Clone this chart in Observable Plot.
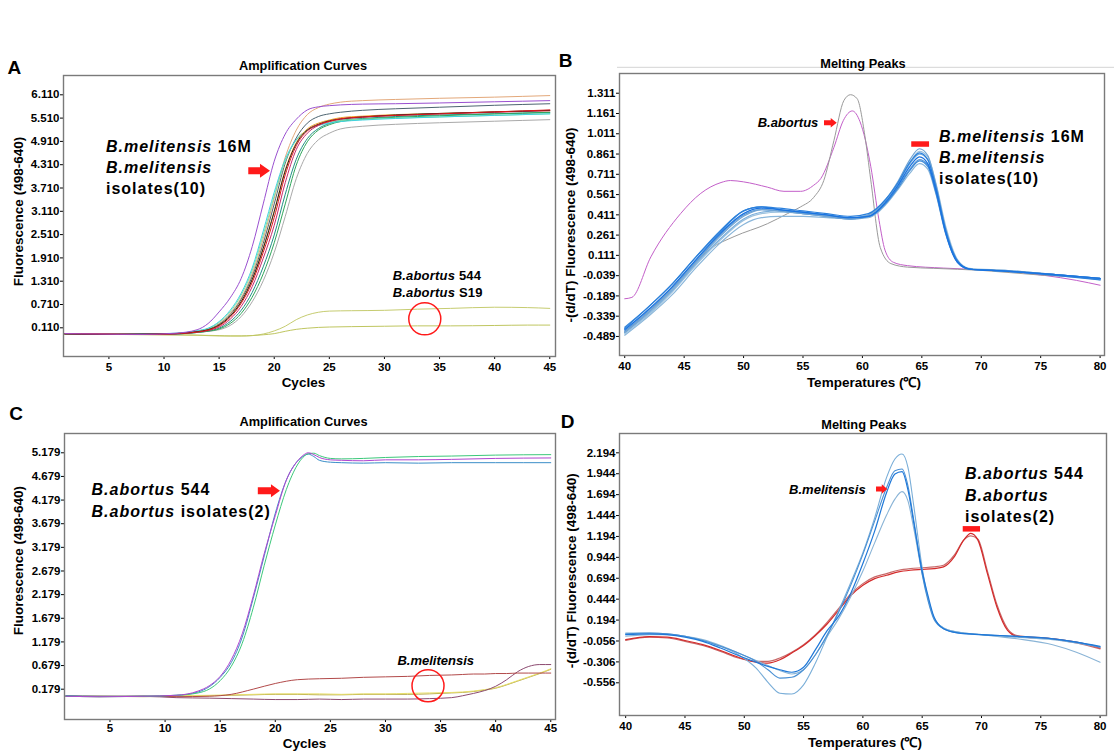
<!DOCTYPE html>
<html><head><meta charset="utf-8">
<script src="https://cdn.jsdelivr.net/npm/d3@7"></script>
<script src="https://cdn.jsdelivr.net/npm/@observablehq/plot@0.6"></script>
<style>
body{margin:0;background:#fff;}
#root{position:relative;width:1114px;height:754px;background:#fff;overflow:hidden;}
</style></head><body><div id="root"></div>
<script>
// ---------- Tick labels ----------
const ticksCycles = [5,10,15,20,25,30,35,40,45];
const ticksTemp = [40,45,50,55,60,65,70,75,80];
const ticksA_y = [0.110,0.710,1.310,1.910,2.510,3.110,3.710,4.310,4.910,5.510,6.110];
const ticksB_y = [-0.489,-0.339,-0.189,-0.039,0.111,0.261,0.411,0.561,0.711,0.861,1.011,1.161,1.311];
const ticksC_y = [0.179,0.679,1.179,1.679,2.179,2.679,3.179,3.679,4.179,4.679,5.179];
const ticksD_y = [-0.556,-0.306,-0.056,0.194,0.444,0.694,0.944,1.194,1.444,1.694,1.944,2.194];

// ---------- Panel A: amplification curves ----------
const cyclesA = [1,4,8,11,13,14,15,16,17,18,19,20,21,22,23,24,25,26,28,31,35,40,45];
const A_purple = [-0.04,-0.05,-0.06,-0.03,0.06,0.22,0.52,0.88,1.38,2.2,3.3,4.4,5.1,5.48,5.72,5.80,5.83,5.85,5.87,5.88,5.90,5.93,5.96];
const A_tan = [-0.05,-0.05,-0.06,-0.04,0.02,0.08,0.22,0.48,0.88,1.5,2.4,3.45,4.5,5.2,5.6,5.78,5.87,5.92,5.96,5.99,6.02,6.05,6.09];
const A_slate = [-0.04,-0.05,-0.05,-0.04,0.02,0.07,0.2,0.45,0.84,1.43,2.28,3.3,4.35,5.0,5.38,5.55,5.62,5.66,5.71,5.75,5.79,5.84,5.88];
const A_black = [-0.05,-0.06,-0.05,-0.04,0.01,0.06,0.18,0.41,0.78,1.35,2.15,3.1,4.15,4.85,5.2,5.35,5.44,5.49,5.54,5.59,5.63,5.67,5.71];
const A_red = [-0.04,-0.05,-0.06,-0.04,0.0,0.05,0.16,0.38,0.74,1.28,2.05,2.95,4.05,4.80,5.18,5.34,5.43,5.49,5.54,5.58,5.62,5.67,5.72];
const A_crimson = [-0.04,-0.05,-0.06,-0.05,0.0,0.04,0.13,0.33,0.66,1.17,1.9,2.75,3.85,4.7,5.12,5.32,5.42,5.48,5.53,5.58,5.62,5.66,5.70];
const A_orange = [-0.05,-0.05,-0.06,-0.04,0.01,0.06,0.18,0.42,0.79,1.36,2.17,3.12,4.18,4.88,5.23,5.38,5.46,5.52,5.56,5.60,5.63,5.67,5.70];
const A_cyan = [-0.05,-0.06,-0.05,-0.03,0.03,0.1,0.27,0.56,1.0,1.65,2.6,3.6,4.45,4.95,5.2,5.32,5.38,5.42,5.46,5.50,5.54,5.58,5.62];
const A_lightgreen = [-0.05,-0.05,-0.06,-0.04,0.03,0.09,0.25,0.52,0.95,1.58,2.5,3.5,4.4,4.95,5.2,5.33,5.4,5.45,5.48,5.51,5.54,5.58,5.62];
const A_green = [-0.05,-0.05,-0.06,-0.05,-0.01,0.02,0.08,0.22,0.48,0.9,1.5,2.3,3.3,4.3,4.9,5.2,5.34,5.42,5.48,5.53,5.57,5.62,5.66];
const A_teal = [-0.04,-0.05,-0.06,-0.05,-0.01,0.03,0.1,0.27,0.56,1.02,1.68,2.5,3.55,4.45,4.98,5.24,5.37,5.45,5.50,5.55,5.59,5.62,5.65];
const A_gray = [-0.04,-0.05,-0.06,-0.05,-0.01,0.02,0.06,0.17,0.4,0.78,1.32,2.05,2.98,3.95,4.6,4.95,5.12,5.23,5.30,5.35,5.39,5.43,5.47];
const cyclesAlow = [1,5,10,13,15,16,17,18,19,20,21,22,23,24,25,27,30,33,36,40,43,45];
const A_ab544 = [-0.05,-0.06,-0.07,-0.08,-0.09,-0.1,-0.1,-0.09,-0.05,0.03,0.15,0.32,0.44,0.51,0.54,0.55,0.56,0.59,0.61,0.64,0.63,0.61];
const A_abS19 = [-0.05,-0.06,-0.07,-0.08,-0.1,-0.1,-0.1,-0.09,-0.07,-0.04,0.02,0.07,0.1,0.12,0.13,0.14,0.15,0.16,0.16,0.17,0.18,0.18];

// ---------- Panel B: melting peaks ----------
const tempB = [40,42,44,46,48,50,51.5,53,55,57,59,60.5,62,63,64,64.8,65.5,66.2,67,68,69,72,76,80];
const B_m1 = [-0.44,-0.29,-0.12,0.08,0.27,0.42,0.46,0.45,0.43,0.41,0.39,0.40,0.51,0.63,0.77,0.84,0.79,0.59,0.28,0.06,0.01,-0.005,-0.03,-0.06];
const B_m2 = [-0.46,-0.31,-0.14,0.06,0.25,0.40,0.45,0.44,0.42,0.40,0.38,0.41,0.53,0.66,0.82,0.90,0.85,0.63,0.31,0.07,0.01,-0.005,-0.03,-0.06];
const B_m3 = [-0.48,-0.34,-0.18,0.02,0.20,0.34,0.39,0.40,0.40,0.39,0.38,0.39,0.49,0.60,0.72,0.79,0.75,0.56,0.27,0.06,0.01,-0.005,-0.03,-0.06];
const B_m4 = [-0.43,-0.27,-0.10,0.10,0.29,0.44,0.47,0.46,0.44,0.42,0.40,0.42,0.53,0.65,0.80,0.87,0.82,0.61,0.30,0.07,0.01,-0.005,-0.035,-0.07];
const B_m5 = [-0.45,-0.30,-0.13,0.07,0.26,0.41,0.45,0.44,0.42,0.40,0.38,0.40,0.50,0.62,0.75,0.82,0.78,0.58,0.29,0.07,0.01,0.0,-0.03,-0.065];
const B_m6 = [-0.47,-0.33,-0.16,0.04,0.22,0.37,0.42,0.43,0.42,0.40,0.39,0.41,0.52,0.65,0.80,0.88,0.84,0.64,0.33,0.08,0.015,0.0,-0.03,-0.065];
const B_m7 = [-0.42,-0.27,-0.10,0.10,0.28,0.44,0.47,0.45,0.43,0.41,0.39,0.40,0.50,0.61,0.74,0.81,0.77,0.57,0.28,0.06,0.01,-0.005,-0.03,-0.06];
const B_m8 = [-0.46,-0.32,-0.15,0.05,0.23,0.38,0.43,0.44,0.43,0.41,0.39,0.41,0.52,0.64,0.79,0.86,0.82,0.61,0.30,0.07,0.01,-0.005,-0.03,-0.06];
const tempBgray = [40,42,44,45.5,47.2,49.2,52,53.7,54.8,55.9,56.75,57.6,58.44,59,59.56,60.2,60.7,61.5,62.4,63.8,66,70,75,78,80];
const B_gray = [-0.45,-0.31,-0.13,0.02,0.16,0.25,0.345,0.42,0.47,0.54,0.665,0.96,1.257,1.30,1.27,1.0,0.67,0.17,0.05,0.024,0.015,0.0,-0.035,-0.05,-0.07];
const tempBmag = [40,40.6,42.2,44.7,46.4,48.1,48.9,50,52,53.4,54.8,55.9,56.5,57.6,58.4,59.15,59.8,60.7,61.4,61.9,62.6,63.8,66.8,71,75.3,78,80];
const B_magenta = [-0.21,-0.20,0.10,0.42,0.57,0.65,0.665,0.655,0.616,0.585,0.585,0.63,0.68,0.91,1.11,1.18,1.10,0.77,0.37,0.15,0.06,0.035,0.017,0.0,-0.037,-0.074,-0.11];

// ---------- Panel C: amplification curves ----------
const cyclesC = [1,4,8,11,13,14,15,16,17,18,19,20,21,22,22.5,23,23.5,24,25,26,28,30,33,36,40,45];
const C_magenta = [0.03,0.02,0.03,0.05,0.14,0.25,0.45,0.8,1.35,2.15,3.05,3.85,4.6,5.0,5.12,5.18,5.14,5.08,5.03,5.02,5.01,5.03,5.03,5.04,5.06,5.07];
const C_green = [0.03,0.02,0.03,0.05,0.1,0.18,0.36,0.66,1.15,1.9,2.8,3.65,4.4,4.92,5.08,5.16,5.17,5.12,5.06,5.05,5.06,5.08,5.1,5.11,5.13,5.14];
const C_blue = [0.04,0.03,0.03,0.05,0.12,0.23,0.43,0.74,1.28,2.1,3.0,3.9,4.6,5.0,5.1,5.15,5.1,5.02,4.98,4.97,4.96,4.97,4.96,4.97,4.97,4.97];
const cyclesClow = [1,4,8,11,14,16,18,20,22,24,26,28,30,32,34,36,37,38,39,40,41,42,43,44,45];
const C_darkred = [0.04,0.03,0.03,0.02,0.03,0.07,0.18,0.3,0.38,0.4,0.41,0.43,0.44,0.45,0.47,0.48,0.49,0.5,0.5,0.51,0.51,0.52,0.52,0.52,0.52];
const C_plum = [0.03,0.02,0.03,0.0,-0.01,-0.02,-0.03,-0.04,-0.04,-0.03,-0.04,-0.03,-0.03,-0.03,-0.02,0.0,0.04,0.09,0.15,0.24,0.38,0.55,0.66,0.70,0.70];
const C_yellow = [0.03,0.03,0.03,0.04,0.05,0.06,0.07,0.08,0.08,0.08,0.07,0.08,0.08,0.09,0.1,0.11,0.12,0.14,0.17,0.21,0.28,0.36,0.44,0.52,0.61];
const C_olive = [0.03,0.03,0.02,0.03,0.04,0.05,0.06,0.07,0.07,0.06,0.06,0.07,0.07,0.07,0.08,0.1,0.11,0.13,0.16,0.2,0.27,0.35,0.43,0.51,0.6];

// ---------- Panel D: melting peaks ----------
const tempD = [40,42,43.5,45,46.5,48,49.5,51,52,53,54,55,56,57,58,59,60,61,62,62.7,63.3,63.8,64.3,65,65.5,66,66.8,68,70,73,76,78,80];
const D_m1 = [0.02,0.03,0.02,-0.01,-0.06,-0.14,-0.23,-0.31,-0.36,-0.40,-0.43,-0.37,-0.16,0.07,0.25,0.52,0.87,1.26,1.72,1.94,1.97,1.75,1.35,0.78,0.48,0.23,0.09,0.04,0.02,0.0,-0.03,-0.07,-0.12];
const D_m2 = [0.03,0.04,0.03,0.0,-0.05,-0.12,-0.2,-0.3,-0.4,-0.5,-0.49,-0.4,-0.22,0.02,0.3,0.62,0.98,1.38,1.78,1.98,2.0,1.8,1.38,0.74,0.42,0.2,0.09,0.04,0.02,0.0,-0.03,-0.07,-0.13];
const D_m3 = [0.04,0.04,0.03,0.0,-0.05,-0.12,-0.22,-0.38,-0.55,-0.68,-0.69,-0.58,-0.32,0.0,0.32,0.65,1.0,1.42,1.9,2.12,2.18,2.02,1.55,0.82,0.45,0.22,0.1,0.05,0.02,-0.01,-0.04,-0.08,-0.13];
const D_m4 = [0.0,0.02,0.02,0.0,-0.04,-0.11,-0.2,-0.29,-0.35,-0.41,-0.45,-0.40,-0.22,0.0,0.22,0.48,0.78,1.12,1.45,1.64,1.73,1.62,1.28,0.75,0.45,0.22,0.1,0.05,0.02,-0.03,-0.1,-0.19,-0.31];
const tempDred = [40,42,43.5,45,46.5,48,49.5,51,52,53,54,55,56,57,58,59,60,61,62,63,64,65,66,66.8,67.7,68.5,69.1,69.7,70.5,71.3,72.2,73,76,78,80];
const D_a1 = [-0.04,-0.005,-0.01,-0.05,-0.1,-0.17,-0.25,-0.31,-0.32,-0.28,-0.2,-0.11,0.01,0.15,0.32,0.49,0.61,0.69,0.73,0.77,0.79,0.80,0.81,0.83,0.95,1.15,1.23,1.15,0.75,0.35,0.07,0.0,-0.03,-0.07,-0.14];
const D_a2 = [-0.05,-0.01,-0.02,-0.06,-0.11,-0.18,-0.26,-0.3,-0.3,-0.26,-0.19,-0.1,0.02,0.17,0.34,0.51,0.63,0.71,0.75,0.79,0.81,0.82,0.83,0.85,0.97,1.15,1.2,1.16,0.78,0.38,0.09,0.01,-0.03,-0.08,-0.15];

// ---------- Annotation texts ----------
const txtMel16M = [[["B.melitensis",true],[" 16M",false]],[["B.melitensis",true]],[["isolates(10)",false]]];
const txtAb544S19 = [[["B.abortus",true],[" 544",false]],[["B.abortus",true],[" S19",false]]];
const txtAbC = [[["B.abortus",true],[" 544",false]],[["B.abortus",true],[" isolates(2)",false]]];
const txtAbD = [[["B.abortus",true],[" 544",false]],[["B.abortus",true]],[["isolates(2)",false]]];

// ---------- rendering helpers ----------
const FONT = "'Liberation Sans', Arial, Helvetica, sans-serif";
const CAP = 0.358;
const RED = "#ff1a1a";
const root = document.getElementById("root");

function lineMarks(xs, list) {
  return list.map(([vals, color, w]) =>
    Plot.line(xs.map((x, i) => ({x, y: vals[i]})), {x: "x", y: "y", stroke: color, strokeWidth: w || 1, curve: "monotone-x"}));
}

function textMark(items) {
  return (index, scales) => {
    const g = d3.create("svg:g").attr("font-family", FONT).attr("font-weight", "bold").attr("fill", "#000");
    for (const it of items) {
      it.lines.forEach((parts, k) => {
        const t = g.append("text")
          .attr("x", scales.x(it.x))
          .attr("y", scales.y(it.ys[k]) + CAP * it.size)
          .attr("font-size", it.size)
          .attr("letter-spacing", it.spacing || 0)
          .attr("text-anchor", it.anchor || "start")
          .style("white-space", "pre");
        for (const [s, ital] of parts) t.append("tspan").attr("font-style", ital ? "italic" : "normal").text(s);
      });
    }
    return g.node();
  };
}

function arrowMark(arrows) {
  return (index, scales) => {
    const g = d3.create("svg:g").attr("fill", RED);
    for (const a of arrows) {
      const x1 = scales.x(a.x1), x2 = scales.x(a.x2), y = scales.y(a.y);
      const b = a.body / 2, h = a.head / 2, hx = x2 - a.headLen;
      g.append("path").attr("d", `M${x1},${y-b}L${hx},${y-b}L${hx},${y-h}L${x2},${y}L${hx},${y+h}L${hx},${y+b}L${x1},${y+b}Z`);
    }
    return g.node();
  };
}

function decor(p) {
  return (index, scales, values, d) => {
    const g = d3.create("svg:g").attr("font-family", FONT).attr("font-weight", "bold").attr("fill", "#000");
    const L = d.marginLeft, R = d.width - d.marginRight, T = d.marginTop, B = d.height - d.marginBottom;
    const cx = (L + R) / 2, cy = (T + B) / 2;
    if (p.topLine) g.append("line").attr("x1", L - 2).attr("x2", d.width).attr("y1", T - p.topLine).attr("y2", T - p.topLine).attr("stroke", "#d4d4d4").attr("stroke-width", 1);
    g.append("text").attr("x", p.letterX).attr("y", p.letterBase).attr("font-size", 19).text(p.letter);
    g.append("text").attr("x", cx + p.titleDx).attr("y", T - p.titleUp + CAP * 12.8).attr("text-anchor", "middle").attr("font-size", 12.8).text(p.title);
    g.append("text").attr("x", cx + p.xlabDx).attr("y", B + p.xlabDown + CAP * 13.5).attr("text-anchor", "middle").attr("font-size", 13.5).text(p.xlab);
    g.append("text").attr("transform", `translate(${L + p.ylabDx + CAP * 13.5},${cy + p.ylabDy}) rotate(-90)`).attr("text-anchor", "middle").attr("font-size", 13.5).text(p.ylab);
    return g.node();
  };
}

function panel(o) {
  const svg = Plot.plot({
    width: o.width, height: o.height,
    marginLeft: o.m[3], marginRight: o.m[1], marginTop: o.m[0], marginBottom: o.m[2],
    style: {fontFamily: FONT, fontSize: "11.5px", fontWeight: "bold", color: "#000", background: "transparent", overflow: "visible"},
    x: {domain: o.xDomain, ticks: o.xTicks, tickSize: 3, tickPadding: o.xPad, tickFormat: d => String(d), label: null},
    y: {domain: o.yDomain, ticks: o.yTicks, tickSize: 3, tickPadding: 1, tickFormat: d => d.toFixed(3), label: null},
    marks: [...o.marks, Plot.frame({stroke: "#7a7a7a", strokeWidth: 1.4})]
  });
  svg.style.position = "absolute";
  svg.style.left = o.left + "px";
  svg.style.top = o.top + "px";
  root.appendChild(svg);
}

// ---------- Panel A ----------
panel({
  left: 0, top: 40, width: 560, height: 370, m: [35, 5, 54, 63],
  xDomain: [0.88, 45.52], yDomain: [-0.629, 6.607], xTicks: ticksCycles, yTicks: ticksA_y, xPad: 3.5,
  marks: [
    ...lineMarks(cyclesAlow, [[A_ab544, "#c6cc70"], [A_abS19, "#bfc660"]]),
    ...lineMarks(cyclesA, [
      [A_gray, "#a9a9a9"], [A_tan, "#e3a87a"], [A_slate, "#4d6470"], [A_teal, "#1f8f86"],
      [A_green, "#2fa65a"], [A_lightgreen, "#86e0a0"], [A_cyan, "#3fd3e0"], [A_orange, "#f2a02a"],
      [A_crimson, "#c8286e"], [A_black, "#222222"], [A_red, "#e01818"], [A_purple, "#9a50d0"]
    ]),
    Plot.dot([{x: 33.66, y: 0.34}], {x: "x", y: "y", r: 16, stroke: RED, strokeWidth: 1.5, fill: "none"}),
    arrowMark([{x1: 17.69, x2: 19.66, y: 4.143, body: 7, head: 14, headLen: 10}]),
    textMark([
      {x: 4.78, ys: [4.761, 4.230, 3.689], lines: txtMel16M, size: 16, spacing: 1},
      {x: 30.79, ys: [1.457, 1.011], lines: txtAb544S19, size: 13, spacing: 0.2}
    ]),
    decor({letter: "A", letterX: 14.4, letterBase: 34, title: "Amplification Curves", titleDx: -6, titleUp: 9.3,
      xlab: "Cycles", xlabDx: -5.6, xlabDown: 25.7, ylab: "Fluorescence (498-640)", ylabDx: -45, ylabDy: -4})
  ]
});

// ---------- Panel B ----------
panel({
  left: 555, top: 40, width: 559, height: 370, m: [33, 10, 55, 64],
  xDomain: [39.56, 80.37], yDomain: [-0.630, 1.457], xTicks: ticksTemp, yTicks: ticksB_y, xPad: 3,
  marks: [
    ...lineMarks(tempBmag, [[B_magenta, "#c35fc9"]]),
    ...lineMarks(tempBgray, [[B_gray, "#9a9a9a"]]),
    ...lineMarks(tempB, [
      [B_m3, "#8ab6da", 1.2], [B_m6, "#9ec3df", 1.2], [B_m8, "#7aaedb", 1.2], [B_m5, "#5a98d6", 1.2],
      [B_m2, "#6fa3d3", 1.2], [B_m7, "#3a88d8", 1.2], [B_m4, "#2b80dc", 1.2], [B_m1, "#1a73e0", 1.3]
    ]),
    Plot.ruleY([{y: 0.935, x1: 64.15, x2: 65.65}], {y: "y", x1: "x1", x2: "x2", stroke: RED, strokeWidth: 5.5}),
    arrowMark([{x1: 56.81, x2: 57.88, y: 1.089, body: 5, head: 9.5, headLen: 6}]),
    textMark([
      {x: 56.33, ys: [1.089], lines: [[["B.abortus", true]]], size: 13, anchor: "end"},
      {x: 66.49, ys: [0.991, 0.833, 0.678], lines: txtMel16M, size: 16, spacing: 1}
    ]),
    decor({letter: "B", letterX: 10.7, letterBase: 26.7, title: "Melting Peaks", titleDx: 1.5, titleUp: 10,
      xlab: "Temperatures (℃)", xlabDx: 2.4, xlabDown: 27, ylab: "-(d/dT) Fluorescence (498-640)", ylabDx: -49, ylabDy: 11, topLine: 5.7})
  ]
});

// ---------- Panel C ----------
panel({
  left: 0, top: 400, width: 560, height: 354, m: [33, 5, 35, 64],
  xDomain: [0.871, 45.43], yDomain: [-0.462, 5.587], xTicks: ticksCycles, yTicks: ticksC_y, xPad: 1,
  marks: [
    ...lineMarks(cyclesClow, [[C_olive, "#b5a84c"], [C_yellow, "#e8df6a"], [C_plum, "#8c4a70"], [C_darkred, "#b24a4a"]]),
    ...lineMarks(cyclesC, [[C_blue, "#3a8ec8"], [C_green, "#3cc87a"], [C_magenta, "#b045d0"]]),
    Plot.dot([{x: 33.86, y: 0.251}], {x: "x", y: "y", r: 16, stroke: RED, strokeWidth: 1.5, fill: "none"}),
    arrowMark([{x1: 18.46, x2: 20.47, y: 4.367, body: 7, head: 13, headLen: 9}]),
    textMark([
      {x: 3.37, ys: [4.396, 3.937], lines: txtAbC, size: 16, spacing: 1},
      {x: 34.61, ys: [0.786], lines: [[["B.melitensis", true]]], size: 13, anchor: "middle"}
    ]),
    decor({letter: "C", letterX: 16.2, letterBase: 20, title: "Amplification Curves", titleDx: -6, titleUp: 12,
      xlab: "Cycles", xlabDx: -5, xlabDown: 24.3, ylab: "Fluorescence (498-640)", ylabDx: -46, ylabDy: -15.3})
  ]
});

// ---------- Panel D ----------
panel({
  left: 555, top: 400, width: 559, height: 354, m: [33, 8, 39, 64],
  xDomain: [39.48, 80.54], yDomain: [-0.947, 2.425], xTicks: ticksTemp, yTicks: ticksD_y, xPad: 3,
  marks: [
    ...lineMarks(tempDred, [[D_a2, "#c86a6a", 1.2], [D_a1, "#d42a2a", 1.2]]),
    ...lineMarks(tempD, [[D_m4, "#8ab4d6", 1.1], [D_m3, "#7aaed8", 1.1], [D_m2, "#4a90d4", 1.1], [D_m1, "#1f78d8", 1.2]]),
    Plot.ruleY([{y: 1.285, x1: 68.46, x2: 69.92}], {y: "y", x1: "x1", x2: "x2", stroke: RED, strokeWidth: 5.5}),
    arrowMark([{x1: 61.15, x2: 62.1, y: 1.755, body: 5, head: 9.5, headLen: 5.5}]),
    textMark([
      {x: 60.28, ys: [1.755], lines: [[["B.melitensis", true]]], size: 13, anchor: "end"},
      {x: 68.65, ys: [1.943, 1.683, 1.424], lines: txtAbD, size: 16, spacing: 1}
    ]),
    decor({letter: "D", letterX: 12.5, letterBase: 28.3, title: "Melting Peaks", titleDx: 1.4, titleUp: 8.7,
      xlab: "Temperatures (℃)", xlabDx: 2.4, xlabDown: 27, ylab: "-(d/dT) Fluorescence (498-640)", ylabDx: -48, ylabDy: -3.3})
  ]
});
</script></body></html>
